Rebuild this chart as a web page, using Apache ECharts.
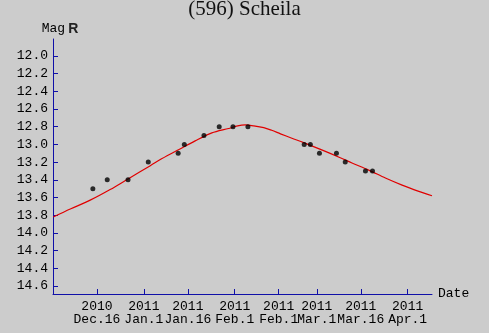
<!DOCTYPE html>
<html>
<head>
<meta charset="utf-8">
<script src="https://cdn.jsdelivr.net/npm/echarts@6/dist/echarts.min.js"></script>
<style>
  html, body { margin: 0; padding: 0; background: #cccccc; }
  #chart { width: 489px; height: 333px; }
</style>
</head>
<body>
<div id="chart"></div>
<script>
// Magnitude ticks (R band), brighter at the top
const magTicks = [12.0, 12.2, 12.4, 12.6, 12.8, 13.0, 13.2, 13.4, 13.6, 13.8, 14.0, 14.2, 14.4, 14.6];

// Date ticks, in days after 2010 Dec.1
const tickDays  = [15, 31, 46, 62, 77, 90, 105, 121];
const tickYears = ['2010', '2011', '2011', '2011', '2011', '2011', '2011', '2011'];
const tickDates = ['Dec.16', 'Jan.1', 'Jan.16', 'Feb.1', 'Feb.1', 'Mar.1', 'Mar.16', 'Apr.1'];

// Observed magnitudes
const obsDays = [13.6, 18.5, 25.6, 32.5, 42.7, 44.8, 51.5, 56.7, 61.4, 66.5, 85.7, 87.8, 90.9, 96.7, 99.7, 106.6, 109.0];
const obsMags = [13.5, 13.4, 13.4, 13.2, 13.1, 13.0, 12.9, 12.8, 12.8, 12.8, 13.0, 13.0, 13.1, 13.1, 13.2, 13.3, 13.3];

// Predicted light curve
const fitDays = [0.1, 5.9, 12.7, 19.5, 25.6, 33.2, 37.2, 42.8, 48.5, 54.2, 59.9, 63.0, 65.6, 68.5, 71.9, 74.6, 77.6, 81.5, 85.5, 92.3, 98.0, 102.0, 107.7, 113.4, 119.1, 124.8, 129.3];
const fitMags = [13.82, 13.73, 13.63, 13.51, 13.39, 13.24, 13.16, 13.06, 12.96, 12.87, 12.82, 12.79, 12.78, 12.79, 12.81, 12.84, 12.88, 12.93, 12.98, 13.07, 13.15, 13.21, 13.29, 13.38, 13.46, 13.53, 13.58];

const MONO = '"Liberation Mono", "DejaVu Sans Mono", monospace';
const AXIS_BLUE = '#1010a8';

const chart = echarts.init(document.getElementById('chart'), null, { renderer: 'canvas' });

chart.setOption({
  backgroundColor: '#cccccc',
  animation: false,
  title: {
    text: '(596) Scheila',
    left: 'center',
    top: -1,
    padding: 0,
    textStyle: {
      fontFamily: '"Liberation Serif", "DejaVu Serif", serif',
      fontSize: 21,
      fontWeight: 'normal',
      color: '#111111'
    }
  },
  grid: { left: 53, right: 57, top: 39, bottom: 39 },
  xAxis: {
    type: 'value',
    min: 0,
    max: 129.3,
    name: 'Date',
    nameLocation: 'end',
    nameGap: 6,
    nameTextStyle: { fontFamily: MONO, fontSize: 13, color: '#000', verticalAlign: 'middle', padding: [12, 0, 0, 0] },
    splitLine: { show: false },
    axisLine: { show: true, onZero: false, lineStyle: { color: AXIS_BLUE, width: 1 } },
    axisTick: { show: true, inside: true, length: 5, customValues: tickDays, lineStyle: { color: AXIS_BLUE } },
    axisLabel: {
      customValues: tickDays,
      margin: 6,
      fontFamily: MONO,
      fontSize: 13,
      lineHeight: 13,
      color: '#000',
      formatter: function (v) {
        const i = tickDays.indexOf(v);
        return i < 0 ? '' : tickYears[i] + '\n' + tickDates[i];
      }
    }
  },
  yAxis: {
    type: 'value',
    inverse: true,
    min: 11.808,
    max: 14.691,
    name: '{a|Mag}{b|R}',
    nameLocation: 'start',
    nameGap: 3,
    nameTextStyle: {
      padding: [0, 0, 0, 14],
      rich: {
        a: { fontFamily: MONO, fontSize: 13, color: '#000' },
        b: { fontFamily: '"Liberation Sans", Arial, sans-serif', fontSize: 14, fontWeight: 'bold', color: '#222', padding: [0, 0, 0, 3] }
      }
    },
    splitLine: { show: false },
    axisLine: { show: true, onZero: false, lineStyle: { color: AXIS_BLUE, width: 1 } },
    axisTick: { show: true, inside: true, length: 5, customValues: magTicks, lineStyle: { color: AXIS_BLUE } },
    axisLabel: {
      customValues: magTicks,
      margin: 5,
      fontFamily: MONO,
      fontSize: 13,
      color: '#000',
      formatter: function (v) { return v.toFixed(1); }
    }
  },
  series: [
    {
      type: 'line',
      data: fitDays.map((d, i) => [d, fitMags[i]]),
      smooth: 0.3,
      showSymbol: false,
      silent: true,
      lineStyle: { color: '#e00000', width: 1.2 },
      z: 2
    },
    {
      type: 'scatter',
      data: obsDays.map((d, i) => [d, obsMags[i]]),
      symbol: 'circle',
      symbolSize: 5,
      itemStyle: { color: '#000000' },
      z: 3
    }
  ]
});
</script>
</body>
</html>
